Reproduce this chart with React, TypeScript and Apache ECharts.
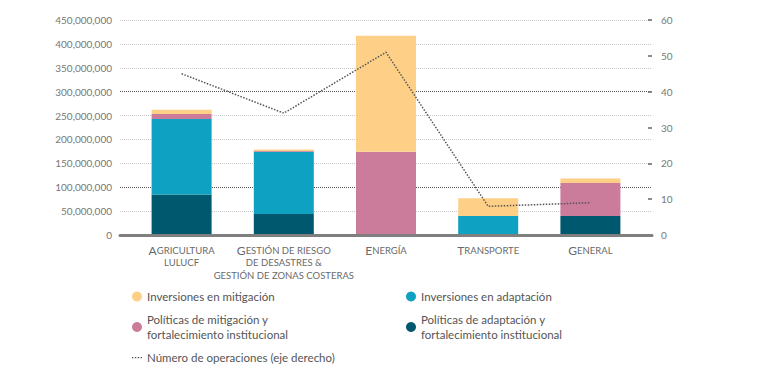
import React, { useEffect, useRef } from "react";
import * as echarts from "echarts";

const categories = [
  "Agricultura\nLULUCF",
  "Gestión de riesgo\nde desastres &\nGestión de zonas costeras",
  "Energía",
  "Transporte",
  "General",
];
const politicasAdaptacion = [85000000, 44000000, 0, 0, 40000000];
const inversionesAdaptacion = [158000000, 130000000, 0, 40000000, 0];
const politicasMitigacion = [10000000, 2000000, 174000000, 0, 69000000];
const inversionesMitigacion = [9000000, 3000000, 243000000, 37000000, 9000000];
const numeroOperaciones = [45, 34, 51, 8, 9];

const names = {
  invMit: "Inversiones en mitigación",
  polMit: "Políticas de mitigación y\nfortalecimiento institucional",
  invAd: "Inversiones en adaptación",
  polAd: "Políticas de adaptación y\nfortalecimiento institucional",
  ops: "Número de operaciones (eje derecho)",
};

const FONT = "Lato, sans-serif";
const DOTTED_ICON =
  "path://M0,0h10v0.01h-10z M0,4.4h1.4v1.3h-1.4z M2.85,4.4h1.4v1.3h-1.4z M5.7,4.4h1.4v1.3h-1.4z M8.55,4.4h1.4v1.3h-1.4z M0,9.99h10v0.01h-10z";

function smallCaps(label: string): string {
  const first = label.charAt(0);
  const rest = label.slice(1).toUpperCase();
  return `{b|${first}}{s|${rest}}`;
}

export default function App() {
  const ref = useRef<HTMLDivElement>(null);
  useEffect(() => {
    if (!ref.current) return;
    const chart = echarts.init(ref.current, undefined, { renderer: "svg" });
    const gridColors = ["#c8c8c8", "#c8c8c8", "#555", "#c8c8c8", "#c8c8c8", "#c8c8c8", "#555", "#c8c8c8", "#c8c8c8", "#c8c8c8"];
    const legendText = { color: "#555", fontSize: 11.5, lineHeight: 15, fontFamily: FONT };
    chart.setOption({
      animation: false,
      textStyle: { fontFamily: FONT },
      grid: [
        { left: 120, right: 109, top: 20, bottom: 152 },
        { left: 130.5, right: 119.5, top: 20, bottom: 152 },
      ],
      xAxis: [
        {
          gridIndex: 0,
          type: "category",
          data: categories,
          axisLine: { show: true, lineStyle: { color: "#7f7f7f", width: 3 } },
          axisTick: { show: false },
          axisLabel: { show: false },
          splitLine: { show: false },
          z: 5,
        },
        {
          gridIndex: 1,
          type: "category",
          data: categories,
          axisLine: { show: false },
          axisTick: { show: false },
          axisLabel: {
            interval: 0,
            margin: 9,
            formatter: (v: string) => smallCaps(v),
            rich: {
              b: { fontSize: 12, color: "#6a6a6a", fontFamily: FONT, lineHeight: 12.5 },
              s: { fontSize: 9.5, color: "#6a6a6a", fontFamily: FONT, lineHeight: 12.5 },
            },
          },
        },
      ],
      yAxis: [
        {
          gridIndex: 0,
          type: "value",
          min: 0,
          max: 450000000,
          interval: 50000000,
          axisLine: { show: false },
          axisTick: { show: false },
          axisLabel: {
            margin: 8,
            color: "#777",
            fontSize: 10,
            fontFamily: FONT,
            formatter: (v: number) => v.toLocaleString("en-US"),
          },
          splitLine: { show: true, lineStyle: { type: "dotted", color: gridColors, width: 1 } },
        },
        {
          gridIndex: 0,
          type: "value",
          position: "right",
          min: 0,
          max: 60,
          interval: 10,
          axisLine: { show: false },
          axisTick: { show: true, inside: true, length: 4, lineStyle: { color: "#666", width: 1.5 } },
          axisLabel: { margin: 9, color: "#777", fontSize: 10, fontFamily: FONT },
          splitLine: { show: false },
        },
        { gridIndex: 1, type: "value", min: 0, max: 450000000, show: false },
        { gridIndex: 1, type: "value", min: 0, max: 60, show: false },
      ],
      legend: [
        {
          left: 127,
          top: 284,
          orient: "vertical",
          itemWidth: 10,
          itemHeight: 10,
          itemGap: 8,
          textStyle: legendText,
          data: [
            { name: names.invMit, icon: "circle" },
            { name: names.polMit, icon: "circle" },
            { name: names.ops, icon: DOTTED_ICON },
          ],
        },
        {
          left: 401,
          top: 284,
          orient: "vertical",
          itemWidth: 10,
          itemHeight: 10,
          itemGap: 8,
          textStyle: legendText,
          data: [
            { name: names.invAd, icon: "circle" },
            { name: names.polAd, icon: "circle" },
          ],
        },
      ],
      series: [
        {
          name: names.polAd,
          type: "bar",
          stack: "total",
          xAxisIndex: 1,
          yAxisIndex: 2,
          barWidth: 60,
          itemStyle: { color: "#00586f" },
          data: politicasAdaptacion,
        },
        {
          name: names.invAd,
          type: "bar",
          stack: "total",
          xAxisIndex: 1,
          yAxisIndex: 2,
          barWidth: 60,
          itemStyle: { color: "#0ea1c2" },
          data: inversionesAdaptacion,
        },
        {
          name: names.polMit,
          type: "bar",
          stack: "total",
          xAxisIndex: 1,
          yAxisIndex: 2,
          barWidth: 60,
          itemStyle: { color: "#cc7c9b" },
          data: politicasMitigacion,
        },
        {
          name: names.invMit,
          type: "bar",
          stack: "total",
          xAxisIndex: 1,
          yAxisIndex: 2,
          barWidth: 60,
          itemStyle: { color: "#fed087" },
          data: inversionesMitigacion,
        },
        {
          name: names.ops,
          type: "line",
          xAxisIndex: 1,
          yAxisIndex: 3,
          symbol: "none",
          itemStyle: { color: "#555" },
          lineStyle: { color: "#555", width: 1.5, type: "dotted" },
          data: numeroOperaciones,
          z: 10,
        },
      ],
    });
    return () => chart.dispose();
  }, []);
  return (
    <div
      ref={ref}
      style={{ position: "fixed", left: 0, top: 0, width: 761, height: 387, background: "#fff" }}
    />
  );
}
